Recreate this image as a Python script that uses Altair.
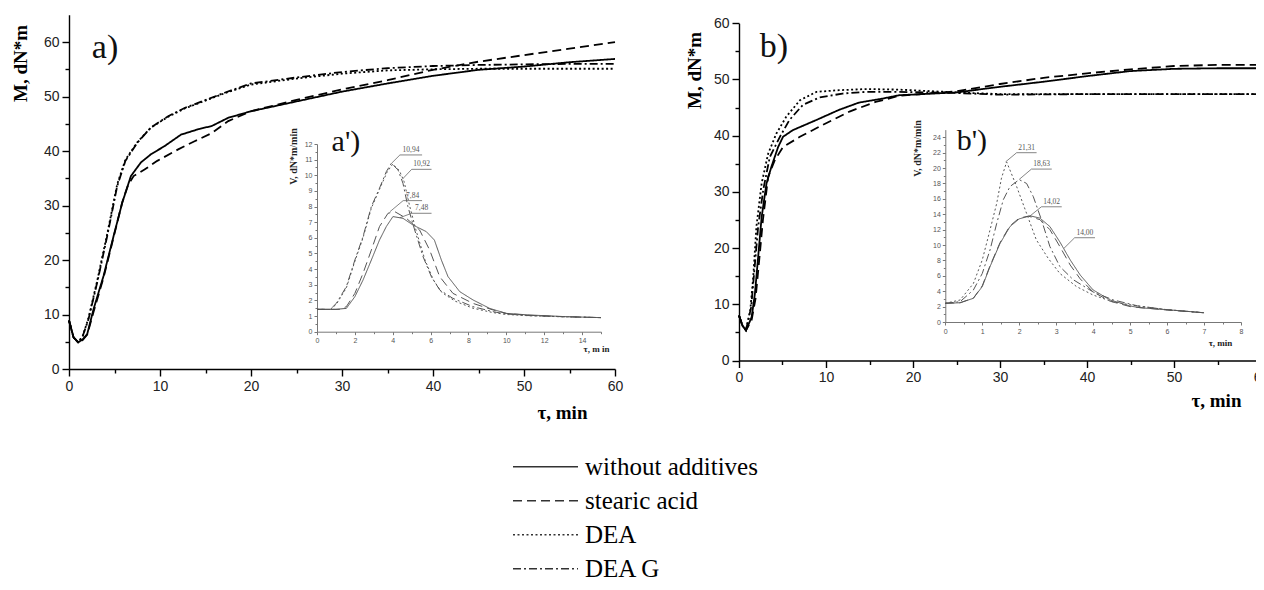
import altair as alt
import pandas as pd

SERIES = ["without additives", "stearic acid", "DEA", "DEA G"]
DASHES = [[1, 0], [9, 5], [2, 2.5], [8, 3, 2, 3]]

# ---------------- panel a) : torque, min ----------------
A_T_SOLID = [0, 0.5, 1.0, 1.5, 2.0, 2.7, 3.8, 4.9, 5.85, 6.8, 7.9, 9.0, 10.5, 12.3, 14.2, 15.7, 17.5, 20, 25, 30, 35, 40, 45, 50, 55, 60]
A_M_SOLID = [8.9, 5.8, 4.9, 5.4, 6.4, 11.0, 17.1, 24.4, 30.5, 35.4, 37.9, 39.4, 40.9, 43.0, 44.0, 44.6, 46.1, 47.3, 49.1, 50.9, 52.4, 53.8, 54.9, 55.5, 56.3, 56.9]
A_T_DASH = [0, 0.5, 1.0, 1.5, 2.0, 2.7, 3.8, 4.9, 5.85, 6.5, 7.1, 8.3, 9.7, 12.0, 13.8, 15.7, 17.5, 20, 25, 30, 35, 40, 45, 50, 55, 60]
A_M_DASH = [8.9, 5.8, 4.9, 5.3, 6.3, 10.5, 16.8, 24.2, 30.6, 33.8, 35.4, 36.6, 38.2, 40.3, 41.8, 43.3, 45.5, 47.3, 49.4, 51.3, 53.0, 54.9, 56.4, 57.6, 58.8, 60.0]
A_T_DEA = [0, 0.5, 1.0, 1.5, 2.15, 3.1, 4.2, 5.3, 6.2, 7.5, 9.0, 10.9, 12.7, 14.6, 17.1, 20, 25, 30, 35, 40, 45, 50, 55, 60]
A_M_DEA = [8.9, 5.8, 4.9, 6.0, 9.4, 16.2, 24.8, 33.9, 38.4, 41.6, 44.3, 46.3, 47.8, 49.0, 50.6, 52.2, 53.3, 54.2, 54.8, 55.0, 55.1, 55.1, 55.1, 55.1]
A_T_DG = [0, 0.5, 1.0, 1.5, 2.15, 3.1, 4.2, 5.3, 6.2, 7.5, 9.0, 10.9, 12.7, 14.6, 17.1, 20, 25, 30, 35, 40, 45, 50, 55, 60]
A_M_DG = [8.9, 5.8, 4.9, 6.0, 9.2, 15.9, 24.4, 33.6, 38.2, 41.5, 44.3, 46.4, 47.9, 49.1, 50.7, 52.4, 53.5, 54.5, 55.2, 55.6, 55.8, 55.9, 56.0, 56.0]

# ---------------- panel b) ----------------
B_T_SOLID = [0, 0.4, 0.8, 1.45, 1.83, 2.2, 2.6, 3.16, 3.73, 4.5, 5.06, 6.2, 8.9, 11.5, 13.8, 16.5, 18.4, 25, 30, 35, 40, 45, 50, 55, 60]
B_M_SOLID = [8.0, 6.2, 5.35, 7.7, 11.9, 18.4, 25.5, 31.5, 34.5, 38.0, 39.8, 41.0, 42.8, 44.6, 45.9, 46.6, 47.2, 47.7, 48.7, 49.6, 50.6, 51.5, 51.9, 52.0, 52.0]
B_T_DASH = [0, 0.4, 0.8, 1.45, 1.9, 2.3, 2.75, 3.35, 4.1, 5.06, 7.0, 9.6, 12.7, 15.7, 18.4, 25, 30, 35, 40, 45, 50, 55, 60]
B_M_DASH = [8.0, 6.2, 5.35, 7.2, 11.0, 17.5, 25.0, 32.7, 35.6, 38.0, 39.8, 41.9, 44.3, 46.0, 47.1, 47.9, 49.2, 50.3, 51.1, 51.8, 52.4, 52.6, 52.6]
B_T_DEA = [0, 0.4, 0.8, 1.3, 1.64, 2.0, 2.6, 3.35, 4.3, 5.44, 7.0, 8.9, 11.5, 14.6, 18.4, 25, 30, 40, 50, 60]
B_M_DEA = [8.0, 6.2, 5.4, 9.0, 14.9, 23.8, 31.5, 36.8, 40.4, 43.4, 46.3, 47.8, 48.1, 48.3, 48.2, 47.7, 47.4, 47.4, 47.4, 47.4]
B_T_DG = [0, 0.4, 0.8, 1.4, 1.83, 2.2, 2.8, 3.54, 4.7, 5.8, 7.35, 9.25, 11.9, 14.6, 18.4, 25, 30, 40, 50, 60]
B_M_DG = [8.0, 6.2, 5.4, 9.5, 17.2, 23.8, 30.5, 36.2, 39.8, 42.8, 45.5, 46.8, 47.5, 47.8, 47.8, 47.6, 47.3, 47.4, 47.4, 47.4]

# ---------------- inset a') : rate ----------------
AI_T_SOLID = [0, 1.0, 1.55, 2.0, 2.43, 2.87, 3.3, 3.66, 4.01, 4.54, 5.07, 5.77, 6.2, 6.57, 6.92, 7.54, 8.24, 9.12, 10, 11.2, 13, 15]
AI_V_SOLID = [1.43, 1.43, 1.49, 2.24, 3.3, 4.58, 5.86, 6.72, 7.36, 7.25, 6.82, 6.4, 5.86, 4.58, 3.52, 2.56, 2.03, 1.49, 1.17, 1.07, 0.97, 0.9]
AI_T_DASH = [0, 1.2, 1.55, 2.0, 2.43, 2.87, 3.3, 3.75, 4.1, 4.72, 5.42, 5.95, 6.48, 7.18, 8.24, 9.3, 10, 11.2, 13, 15]
AI_V_DASH = [1.43, 1.43, 1.6, 2.45, 3.73, 5.22, 6.72, 7.57, 7.68, 7.25, 6.5, 5.22, 3.52, 2.45, 1.81, 1.39, 1.17, 1.05, 0.96, 0.9]
AI_T_DEA = [0, 0.7, 1.02, 1.55, 2.0, 2.43, 2.87, 3.3, 3.7, 4.0, 4.35, 4.6, 4.9, 5.25, 5.7, 6.15, 6.6, 7.3, 8.24, 9.3, 10, 11.2, 13, 15]
AI_V_DEA = [1.43, 1.43, 1.75, 2.8, 4.5, 6.0, 7.9, 9.1, 10.2, 10.72, 10.3, 9.6, 8.0, 6.4, 4.6, 3.3, 2.5, 1.95, 1.5, 1.22, 1.1, 1.02, 0.95, 0.9]
AI_T_DG = [0, 0.7, 1.02, 1.55, 2.0, 2.43, 2.87, 3.3, 3.66, 3.93, 4.28, 4.54, 4.8, 5.16, 5.6, 6.04, 6.48, 7.18, 8.24, 9.3, 10, 11.2, 13, 15]
AI_V_DG = [1.43, 1.43, 1.81, 2.88, 4.58, 6.08, 8.0, 9.17, 10.23, 10.77, 10.34, 9.49, 8.0, 6.5, 4.8, 3.52, 2.67, 2.13, 1.6, 1.28, 1.13, 1.03, 0.96, 0.9]

# ---------------- inset b') ----------------
BI_T_SOLID = [0, 0.4, 0.76, 1.0, 1.21, 1.48, 1.75, 2.0, 2.29, 2.56, 2.83, 3.1, 3.38, 3.65, 4.0, 4.46, 5.0, 5.27, 6.0, 7.0]
BI_V_SOLID = [2.43, 2.5, 3.08, 4.6, 7.2, 10.2, 12.4, 13.4, 13.8, 13.5, 12.4, 10.4, 8.06, 6.1, 4.16, 2.86, 2.08, 1.85, 1.6, 1.2]
BI_T_DASH = [0, 0.4, 0.76, 1.0, 1.21, 1.48, 1.75, 2.0, 2.25, 2.56, 2.83, 3.1, 3.38, 3.65, 4.0, 4.46, 5.0, 6.0, 7.0]
BI_V_DASH = [2.43, 2.5, 3.1, 4.7, 7.3, 10.3, 12.5, 13.5, 13.75, 13.3, 12.0, 9.8, 7.4, 5.6, 3.9, 2.7, 2.0, 1.55, 1.2]
BI_T_DEA = [0, 0.4, 0.76, 1.0, 1.21, 1.39, 1.52, 1.66, 1.93, 2.2, 2.46, 2.78, 3.1, 3.55, 4.0, 4.55, 5.2, 6.0, 7.0]
BI_V_DEA = [2.43, 2.86, 5.0, 8.06, 11.96, 15.4, 18.7, 20.8, 17.6, 14.1, 10.7, 8.3, 6.3, 4.6, 3.5, 2.6, 2.08, 1.6, 1.2]
BI_T_DG = [0, 0.4, 0.76, 1.0, 1.21, 1.39, 1.57, 1.75, 2.0, 2.2, 2.38, 2.6, 2.83, 3.1, 3.46, 4.0, 4.55, 5.2, 6.0, 7.0]
BI_V_DG = [2.43, 2.64, 4.16, 6.3, 9.36, 12.8, 15.9, 17.6, 18.5, 18.0, 16.3, 13.3, 9.8, 7.2, 5.5, 3.9, 2.86, 2.1, 1.6, 1.2]

# ---------------- peak annotations ----------------
AI_LABELS = ["10,94", "10,92", "7,84", "7,48"]
AI_LEAD_T0 = [3.94, 4.5, 3.85, 4.38]
AI_LEAD_V0 = [10.77, 9.74, 7.67, 7.29]
AI_LEAD_T1 = [4.38, 5.0, 4.55, 5.0]
AI_LEAD_V1 = [11.3, 10.38, 8.38, 7.57]
AI_LINE_T2 = [5.55, 6.05, 5.55, 6.05]

BI_LABELS = ["21,31", "18,63", "14,02", "14,00"]
BI_LEAD_T0 = [1.63, 2.0, 2.29, 3.21]
BI_LEAD_V0 = [20.8, 18.53, 13.77, 9.57]
BI_LEAD_T1 = [1.93, 2.33, 2.6, 3.5]
BI_LEAD_V1 = [22.0, 19.87, 14.97, 10.95]
BI_LINE_T2 = [2.47, 2.88, 3.15, 4.05]

# panel tags (text, position in panel data units)
TAGS_A = (["a)"], [3.96], [58.9])
TAGS_B = (["b)"], [4.0], [55.8])
TAGS_AI = (["a')"], [1.53], [12.1])
TAGS_BI = (["b')"], [0.72], [23.5])

# tick values (major = labelled, minor = short unlabelled ticks)
MAIN_MAJOR = [0, 10, 20, 30, 40, 50, 60]
MAIN_MINOR = [5, 15, 25, 35, 45, 55]
AI_X_MAJOR = [0, 2, 4, 6, 8, 10, 12, 14]
AI_X_MINOR = [1, 3, 5, 7, 9, 11, 13, 15]
AI_Y_MAJOR = list(range(0, 13))
AI_Y_MINOR = [i + 0.5 for i in range(0, 12)]
BI_X_MAJOR = list(range(0, 9))
BI_X_MINOR = [i + 0.5 for i in range(0, 8)]
BI_Y_MAJOR = list(range(0, 25, 2))
BI_Y_MINOR = list(range(1, 25, 2))


def curves(parts):
    rows = []
    for name, ts, vs in parts:
        for i, (t, v) in enumerate(zip(ts, vs)):
            rows.append({"series": name, "t": t, "v": v, "i": i})
    return pd.DataFrame(rows)


def annots(labels, t0, v0, t1, v1, t2):
    return pd.DataFrame({
        "label": labels, "t0": t0, "v0": v0, "t1": t1, "v1": v1, "t2": t2,
        "tm": [(a + b) / 2 for a, b in zip(t1, t2)],
    })


def tags(spec):
    return pd.DataFrame({"label": spec[0], "t": spec[1], "v": spec[2]})


LEGEND = alt.Legend(
    orient="none", legendX=504, legendY=442, title=None,
    symbolType="stroke", symbolSize=4225, symbolStrokeWidth=1.3,
    symbolStrokeColor="#333", labelFont="Liberation Serif", labelFontSize=25,
    labelColor="black", clipHeight=33.5, rowPadding=0, labelOffset=6, padding=0,
    labelLimit=400,
)
DASH = alt.StrokeDash("series:N", scale=alt.Scale(domain=SERIES, range=DASHES), legend=LEGEND)

MAIN_STYLE = dict(grid=False, domainColor="black", domainWidth=1.4, tickColor="black",
                  tickWidth=1.4, labelFont="Liberation Sans", labelFontSize=14,
                  labelColor="#222", labelFlush=False, labelOverlap=False,
                  titleFont="Liberation Serif", titleFontWeight="bold",
                  titleColor="black", format="~g")
INSET_STYLE = dict(grid=False, domainColor="#777", domainWidth=1, tickColor="#777",
                   tickWidth=1, labelFont="Liberation Sans", labelFontSize=7,
                   labelColor="#555", labelFlush=False, labelOverlap=False,
                   titleFont="Liberation Serif", titleFontWeight="bold",
                   titleColor="#222", format="~g")


def axes_pair(style, offx, offy, xvals, yvals, tick, pad, xtitle, ytitle,
              xt_size, yt_size, txx, txy, tyx, tyy):
    ax = alt.Axis(orient="bottom", offset=offx, values=xvals, tickSize=tick,
                  labelPadding=pad, title=xtitle, titleFontSize=xt_size,
                  titleX=txx, titleY=txy, titleAlign="center", titleBaseline="middle",
                  **style)
    ay = alt.Axis(orient="left", offset=offy, values=yvals, tickSize=tick,
                  labelPadding=pad, title=ytitle, titleFontSize=yt_size,
                  titleX=tyx, titleY=tyy, titleAngle=270, titleAlign="center",
                  titleBaseline="middle", **style)
    return ax, ay


def minor_pair(offx, offy, xvals, yvals, tick, color, width):
    common = dict(grid=False, domain=False, labels=False, tickSize=tick,
                  tickColor=color, tickWidth=width, title=None)
    return (alt.Axis(orient="bottom", offset=offx, values=xvals, **common),
            alt.Axis(orient="left", offset=offy, values=yvals, **common))


def panel(df, sx, sy, ax, ay, tagdf, tagsize, color, width, ann=None):
    lines = alt.Chart(df).mark_line(color=color, strokeWidth=width).encode(
        x=alt.X("t:Q", scale=sx, axis=ax),
        y=alt.Y("v:Q", scale=sy, axis=ay),
        strokeDash=DASH,
        order="i:Q",
    )
    tag = alt.Chart(tagdf).mark_text(font="Liberation Serif", fontSize=tagsize,
                                     color="#111", align="center",
                                     baseline="middle").encode(
        x=alt.X("t:Q"), y=alt.Y("v:Q"), text="label:N")
    layers = [lines, tag]
    if ann is not None:
        lead = alt.Chart(ann).mark_rule(color="#666", strokeWidth=0.8).encode(
            x=alt.X("t0:Q"), y=alt.Y("v0:Q"), x2="t1:Q", y2="v1:Q")
        under = alt.Chart(ann).mark_rule(color="#666", strokeWidth=0.8).encode(
            x=alt.X("t1:Q"), x2="t2:Q", y=alt.Y("v1:Q"))
        txt = alt.Chart(ann).mark_text(font="Liberation Serif", fontSize=7.5,
                                       color="#555", align="center",
                                       baseline="bottom", dy=-1).encode(
            x=alt.X("tm:Q"), y=alt.Y("v1:Q"), text="label:N")
        layers += [lead, under, txt]
    return alt.layer(*layers)


def minor_layer(tagdf, sx, sy, ax, ay):
    return alt.Chart(tagdf).mark_point(opacity=0, size=1).encode(
        x=alt.X("t:Q", scale=sx, axis=ax), y=alt.Y("v:Q", scale=sy, axis=ay))


def sc(dom, rng):
    return alt.Scale(domain=dom, range=rng, nice=False, zero=False)


df_a = curves([(SERIES[0], A_T_SOLID, A_M_SOLID), (SERIES[1], A_T_DASH, A_M_DASH),
               (SERIES[2], A_T_DEA, A_M_DEA), (SERIES[3], A_T_DG, A_M_DG)])
df_b = curves([(SERIES[0], B_T_SOLID, B_M_SOLID), (SERIES[1], B_T_DASH, B_M_DASH),
               (SERIES[2], B_T_DEA, B_M_DEA), (SERIES[3], B_T_DG, B_M_DG)])
df_ai = curves([(SERIES[0], AI_T_SOLID, AI_V_SOLID), (SERIES[1], AI_T_DASH, AI_V_DASH),
                (SERIES[2], AI_T_DEA, AI_V_DEA), (SERIES[3], AI_T_DG, AI_V_DG)])
df_bi = curves([(SERIES[0], BI_T_SOLID, BI_V_SOLID), (SERIES[1], BI_T_DASH, BI_V_DASH),
                (SERIES[2], BI_T_DEA, BI_V_DEA), (SERIES[3], BI_T_DG, BI_V_DG)])

# scales (domain in data units, range = where the panel sits on the page)
SX_A, SY_A = sc([0, 60], [61, 607]), sc([0, 65], [361, 6.8])
SX_B, SY_B = sc([0, 60], [731, 1253]), sc([0, 60], [352.5, 15.3])
SX_AI, SY_AI = sc([0, 15], [309, 593]), sc([0, 12], [323.7, 136])
SX_BI, SY_BI = sc([0, 8], [937.3, 1233]), sc([0, 25], [314, 121.6])

ax_a, ay_a = axes_pair(MAIN_STYLE, -213, -61, MAIN_MAJOR, MAIN_MAJOR, 7, 3,
                       "τ, min", "M, dN*m", 19, 19, 554, 43, -49, 55)
ax_b, ay_b = axes_pair(MAIN_STYLE, -221.5, -731, MAIN_MAJOR, MAIN_MAJOR, 7, 3,
                       "τ, min", "M, dN*m", 19, 19, 1208, 39.5, -45, 62)
ax_ai, ay_ai = axes_pair(INSET_STYLE, -250.3, -309, AI_X_MAJOR, AI_Y_MAJOR, 3, 2,
                         "τ, m in", "V, dN*m/min", 9, 10, 588, 16.3, -24, 148)
ax_bi, ay_bi = axes_pair(INSET_STYLE, -260, -937.3, BI_X_MAJOR, BI_Y_MAJOR, 3, 2,
                         "τ, min", "V, dN*m/min", 9, 10, 1212, 20, -28.3, 140)

mx_a, my_a = minor_pair(-213, -61, MAIN_MINOR, MAIN_MINOR, 4, "black", 1.4)
mx_b, my_b = minor_pair(-221.5, -731, MAIN_MINOR, MAIN_MINOR, 4, "black", 1.4)
mx_ai, my_ai = minor_pair(-250.3, -309, AI_X_MINOR, AI_Y_MINOR, 2, "#777", 1)
mx_bi, my_bi = minor_pair(-260, -937.3, BI_X_MINOR, BI_Y_MINOR, 2, "#777", 1)

panel_a = panel(df_a, SX_A, SY_A, ax_a, ay_a, tags(TAGS_A), 34, "black", 1.8)
panel_b = panel(df_b, SX_B, SY_B, ax_b, ay_b, tags(TAGS_B), 34, "black", 1.8)
inset_a = panel(df_ai, SX_AI, SY_AI, ax_ai, ay_ai, tags(TAGS_AI), 30, "#555", 1.0,
                annots(AI_LABELS, AI_LEAD_T0, AI_LEAD_V0, AI_LEAD_T1, AI_LEAD_V1, AI_LINE_T2))
inset_b = panel(df_bi, SX_BI, SY_BI, ax_bi, ay_bi, tags(TAGS_BI), 30, "#555", 1.0,
                annots(BI_LABELS, BI_LEAD_T0, BI_LEAD_V0, BI_LEAD_T1, BI_LEAD_V1, BI_LINE_T2))

minor_a = minor_layer(tags(TAGS_A), SX_A, SY_A, mx_a, my_a)
minor_b = minor_layer(tags(TAGS_B), SX_B, SY_B, mx_b, my_b)
minor_ai = minor_layer(tags(TAGS_AI), SX_AI, SY_AI, mx_ai, my_ai)
minor_bi = minor_layer(tags(TAGS_BI), SX_BI, SY_BI, mx_bi, my_bi)

chart = alt.layer(panel_a, panel_b, inset_a, inset_b,
                  minor_a, minor_b, minor_ai, minor_bi).resolve_scale(
    x="independent", y="independent"
).properties(
    width=1248, height=574, padding=0, autosize=alt.AutoSizeParams(type="none"),
    background="white",
).configure_view(strokeWidth=0)

chart.save("out.html", embed_options={"renderer": "svg", "actions": False})
